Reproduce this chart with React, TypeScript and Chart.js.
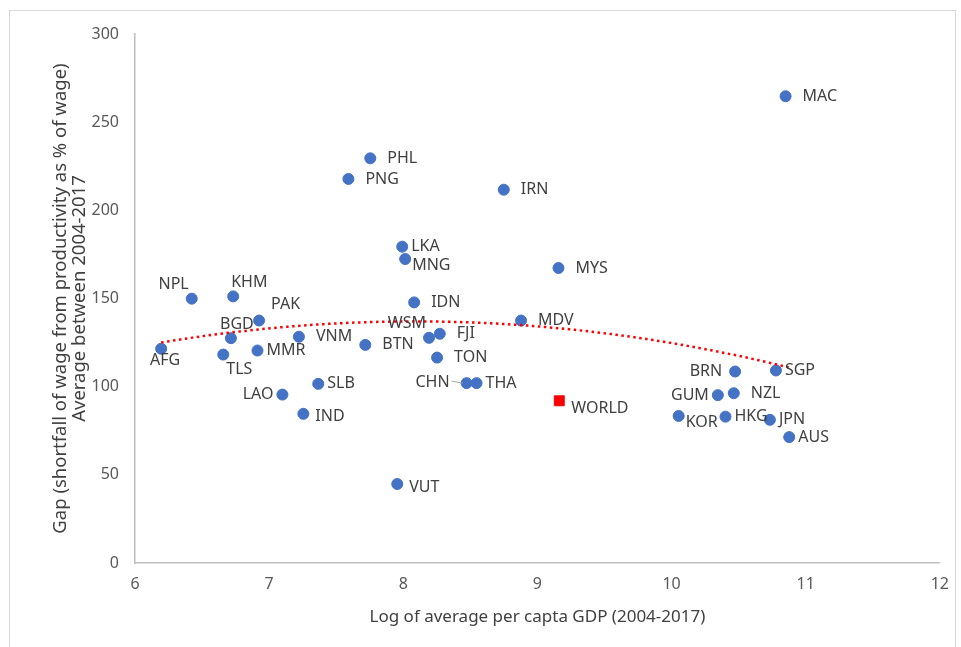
import React, { useEffect, useRef } from "react";
import { Chart, registerables } from "chart.js";

Chart.register(...registerables);

const countries = [
  "MAC", "PHL", "PNG", "IRN", "LKA", "MNG", "MYS", "NPL", "KHM", "IDN",
  "PAK", "MDV", "BGD", "VNM", "WSM", "FJI", "BTN", "AFG", "MMR", "TLS",
  "TON", "SGP", "BRN", "CHN", "THA", "SLB", "GUM", "NZL", "LAO", "IND",
  "KOR", "HKG", "JPN", "AUS", "VUT",
];
const logGdp = [
  10.85, 7.754, 7.591, 8.749, 7.992, 8.014, 9.157, 6.423, 6.732, 8.081,
  6.925, 8.878, 6.715, 7.222, 8.192, 8.272, 7.717, 6.195, 6.913, 6.658,
  8.252, 10.778, 10.474, 8.472, 8.546, 7.366, 10.345, 10.464, 7.099, 7.255,
  10.053, 10.402, 10.733, 10.877, 7.955,
];
const gapPct = [
  264.7, 229.5, 217.8, 211.7, 179.4, 172.4, 167.3, 149.9, 151.2, 147.8,
  137.5, 137.5, 127.5, 128.3, 127.7, 130.0, 123.7, 121.5, 120.5, 118.2,
  116.5, 109.2, 108.6, 102.0, 102.0, 101.6, 95.2, 96.3, 95.5, 84.6,
  83.4, 83.0, 81.2, 71.4, 44.8,
];
// label placement keywords (separate from data)
const labelPlacement = [
  "r", "r", "r", "r", "n", "rb", "r", "al", "ar", "r",
  "ur", "r", "a", "r", "al", "r", "r", "b", "n", "br",
  "r", "n", "lf", "lead", "n", "n", "l", "r", "l", "m",
  "rb", "n", "n", "n", "m",
];
const worldLabel = ["WORLD"];
const worldLogGdp = [9.163];
const worldGap = [92.0];
const worldPlacement = ["w"];

const xTitle = "Log of average per capta GDP (2004-2017)";
const yTitle = ["Gap (shortfall of wage from productivity as % of wage)", "Average between 2004-2017"];

const FONT = "'Noto Sans', 'Open Sans', sans-serif";

function quadFit(xs: number[], ys: number[]) {
  // least squares y = a + b x + c x^2
  let s0 = 0, s1 = 0, s2 = 0, s3 = 0, s4 = 0, t0 = 0, t1 = 0, t2 = 0;
  for (let i = 0; i < xs.length; i++) {
    const x = xs[i], y = ys[i];
    s0 += 1; s1 += x; s2 += x * x; s3 += x * x * x; s4 += x * x * x * x;
    t0 += y; t1 += x * y; t2 += x * x * y;
  }
  const M = [
    [s0, s1, s2, t0],
    [s1, s2, s3, t1],
    [s2, s3, s4, t2],
  ];
  for (let c = 0; c < 3; c++) {
    let p = c;
    for (let r = c + 1; r < 3; r++) if (Math.abs(M[r][c]) > Math.abs(M[p][c])) p = r;
    [M[c], M[p]] = [M[p], M[c]];
    for (let r = 0; r < 3; r++) {
      if (r === c) continue;
      const f = M[r][c] / M[c][c];
      for (let k = c; k < 4; k++) M[r][k] -= f * M[c][k];
    }
  }
  return [M[0][3] / M[0][0], M[1][3] / M[1][1], M[2][3] / M[2][2]];
}

const placements: Record<string, [number, number, CanvasTextAlign]> = {
  r: [17, 0, "left"],
  n: [9, 0, "left"],
  rb: [7, 6, "left"],
  w: [12, 8, "left"],
  m: [12, 3, "left"],
  al: [-3, -14, "right"],
  ar: [-2, -14, "left"],
  ur: [12, -16, "left"],
  a: [6, -14, "center"],
  b: [4, 12, "center"],
  br: [3, 15, "left"],
  l: [-9, 0, "right"],
  lf: [-13, 0, "right"],
  lead: [-17, -1, "right"],
};

const labelPlugin = {
  id: "pointLabels",
  afterDatasetsDraw(chart: any) {
    const ctx = chart.ctx;
    ctx.save();
    ctx.font = `16px ${FONT}`;
    ctx.fillStyle = "#404040";
    ctx.textBaseline = "middle";
    const drawSet = (dsIndex: number, names: string[], places: string[]) => {
      const meta = chart.getDatasetMeta(dsIndex);
      meta.data.forEach((pt: any, i: number) => {
        const p = placements[places[i]] || placements.r;
        ctx.textAlign = p[2];
        ctx.fillText(names[i], pt.x + p[0], pt.y + p[1]);
        if (places[i] === "lead") {
          ctx.save();
          ctx.strokeStyle = "#A6A6A6";
          ctx.lineWidth = 1;
          ctx.beginPath();
          ctx.moveTo(pt.x - 15, pt.y - 2);
          ctx.lineTo(pt.x - 4, pt.y);
          ctx.stroke();
          ctx.restore();
        }
      });
    };
    drawSet(1, countries, labelPlacement);
    drawSet(2, worldLabel, worldPlacement);
    ctx.restore();
  },
};

const framePlugin = {
  id: "frame",
  beforeDraw(chart: any) {
    const ctx = chart.ctx;
    ctx.save();
    ctx.fillStyle = "#FFFFFF";
    ctx.fillRect(0, 0, chart.width, chart.height);
    ctx.strokeStyle = "#D9D9D9";
    ctx.lineWidth = 1;
    ctx.strokeRect(9.5, 10.5, 946, 660);
    ctx.restore();
  },
};

export default function App() {
  const ref = useRef<HTMLCanvasElement>(null);
  useEffect(() => {
    if (!ref.current) return;
    const [a, b, c] = quadFit(logGdp, gapPct);
    const xmin = Math.min(...logGdp);
    const xmax = Math.max(...logGdp);
    const trend: { x: number; y: number }[] = [];
    const n = 120;
    for (let i = 0; i <= n; i++) {
      const x = xmin + ((xmax - xmin) * i) / n;
      trend.push({ x, y: a + b * x + c * x * x });
    }
    const chart = new Chart(ref.current, {
      type: "scatter",
      data: {
        datasets: [
          {
            type: "line",
            data: trend,
            borderColor: "#FF0000",
            borderWidth: 2.5,
            borderDash: [2.5, 3.5],
            pointRadius: 0,
            fill: false,
            tension: 0,
            order: 0,
          } as any,
          {
            data: logGdp.map((x, i) => ({ x, y: gapPct[i] })),
            backgroundColor: "#4472C4",
            borderColor: "#4472C4",
            pointRadius: 5.5,
            pointHoverRadius: 5.5,
            order: 1,
          },
          {
            data: worldLogGdp.map((x, i) => ({ x, y: worldGap[i] })),
            backgroundColor: "#FF0000",
            borderColor: "#FF0000",
            pointStyle: "rect",
            pointRadius: 7,
            pointHoverRadius: 7,
            order: 1,
          },
        ],
      },
      options: {
        animation: false,
        responsive: false,
        devicePixelRatio: 1,
        layout: { padding: { left: 0, top: 34, right: 18, bottom: 0 } },
        plugins: {
          legend: { display: false },
          tooltip: { enabled: false },
        },
        scales: {
          x: {
            type: "linear",
            min: 6,
            max: 12,
            ticks: { stepSize: 1, color: "#595959", font: { family: FONT, size: 16 }, padding: 12 },
            grid: { display: false, drawTicks: false },
            border: { display: true, color: "#BFBFBF", width: 1.5 },
            title: {
              display: true,
              text: xTitle,
              color: "#404040",
              font: { family: FONT, size: 17 },
              padding: { top: 0, bottom: 20 },
            },
            afterFit: (s: any) => { s.height = 84; },
          },
          y: {
            type: "linear",
            min: 0,
            max: 300,
            ticks: { stepSize: 50, color: "#595959", font: { family: FONT, size: 16 }, padding: 16 },
            grid: { display: false, drawTicks: false },
            border: { display: true, color: "#BFBFBF", width: 1.5 },
            title: {
              display: true,
              text: yTitle,
              color: "#404040",
              font: { family: FONT, size: 18.5, lineHeight: 1.03 },
              padding: { top: 51, bottom: 0 },
            },
            afterFit: (s: any) => { s.width = 135; },
          },
        },
      },
      plugins: [framePlugin, labelPlugin],
    });
    return () => chart.destroy();
  }, []);
  return (
    <div style={{ position: "absolute", left: 0, top: 0, width: 961, height: 647 }}>
      <canvas ref={ref} width={961} height={647} style={{ display: "block" }} />
    </div>
  );
}
